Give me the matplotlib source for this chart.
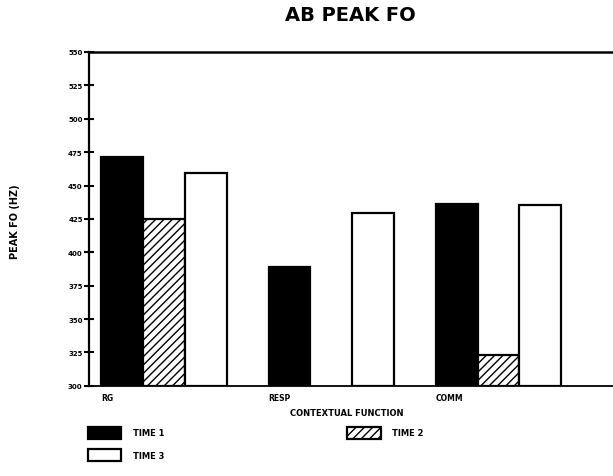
import numpy as np
import matplotlib.pyplot as plt
from matplotlib.patches import Patch

# Mean peak F0 (Hz) by contextual function and recording time
categories = ["RG", "RESP", "COMM"]
time1 = [471, 389, 436]
time2 = [425, np.nan, 323]
time3 = [459.5, 429.5, 435.5]
yticks = [300, 325, 350, 375, 400, 425, 450, 475, 500, 525, 550]

plt.rcParams["font.family"] = "DejaVu Sans"
plt.rcParams["font.weight"] = "bold"
plt.rcParams["hatch.linewidth"] = 1.0

fig = plt.figure(figsize=(6.13, 4.77), dpi=100)
ax = fig.add_axes([0.145, 0.189, 0.855, 0.700])

group = np.arange(len(categories)) * 4.0
bar_kw = dict(width=1.0, align="edge", bottom=300, edgecolor="black", linewidth=1.6)

t1 = ax.bar(group, np.array(time1) - 300, color="black", **bar_kw)
t2 = ax.bar(group + 1, np.array(time2) - 300, color="white", hatch="////", **bar_kw)
t3 = ax.bar(group + 2, np.array(time3) - 300, color="white", **bar_kw)

ax.set_xlim(-0.3, 12.24)
ax.set_ylim(300, 550)
ax.set_yticks(yticks)
ax.set_yticklabels([str(v) for v in yticks], fontsize=5, fontweight="bold")
ax.tick_params(axis="y", direction="inout", length=7, width=1.5, pad=1)

ax.set_xticks(group)
ax.set_xticklabels(categories, fontsize=5.5, fontweight="bold", ha="left")
ax.tick_params(axis="x", length=0, pad=5)

ax.spines["right"].set_visible(False)
ax.spines["left"].set_linewidth(1.6)
ax.spines["top"].set_linewidth(1.8)
ax.spines["bottom"].set_linewidth(1.3)

fig.text(0.571, 0.968, "AB PEAK FO", ha="center", va="center",
         fontsize=14, fontweight="bold")
fig.text(0.566, 0.134, "CONTEXTUAL FUNCTION", ha="center", va="center",
         fontsize=6, fontweight="bold")
fig.text(0.025, 0.535, "PEAK FO (HZ)", ha="center", va="center",
         rotation=90, fontsize=7, fontweight="bold")

handles = [
    Patch(facecolor="black", edgecolor="black", linewidth=1.6, label="TIME 1"),
    Patch(facecolor="white", edgecolor="black", linewidth=1.6, label="TIME 3"),
    Patch(facecolor="white", edgecolor="black", linewidth=1.6, hatch="////", label="TIME 2"),
]
fig.legend(handles=handles, ncol=2, loc="upper left", bbox_to_anchor=(0.136, 0.112),
           frameon=False, fontsize=6, handlelength=4.0, handleheight=1.8,
           handletextpad=1.4, columnspacing=22, labelspacing=1.3, borderpad=0)

fig.savefig("out.png", dpi=100)
